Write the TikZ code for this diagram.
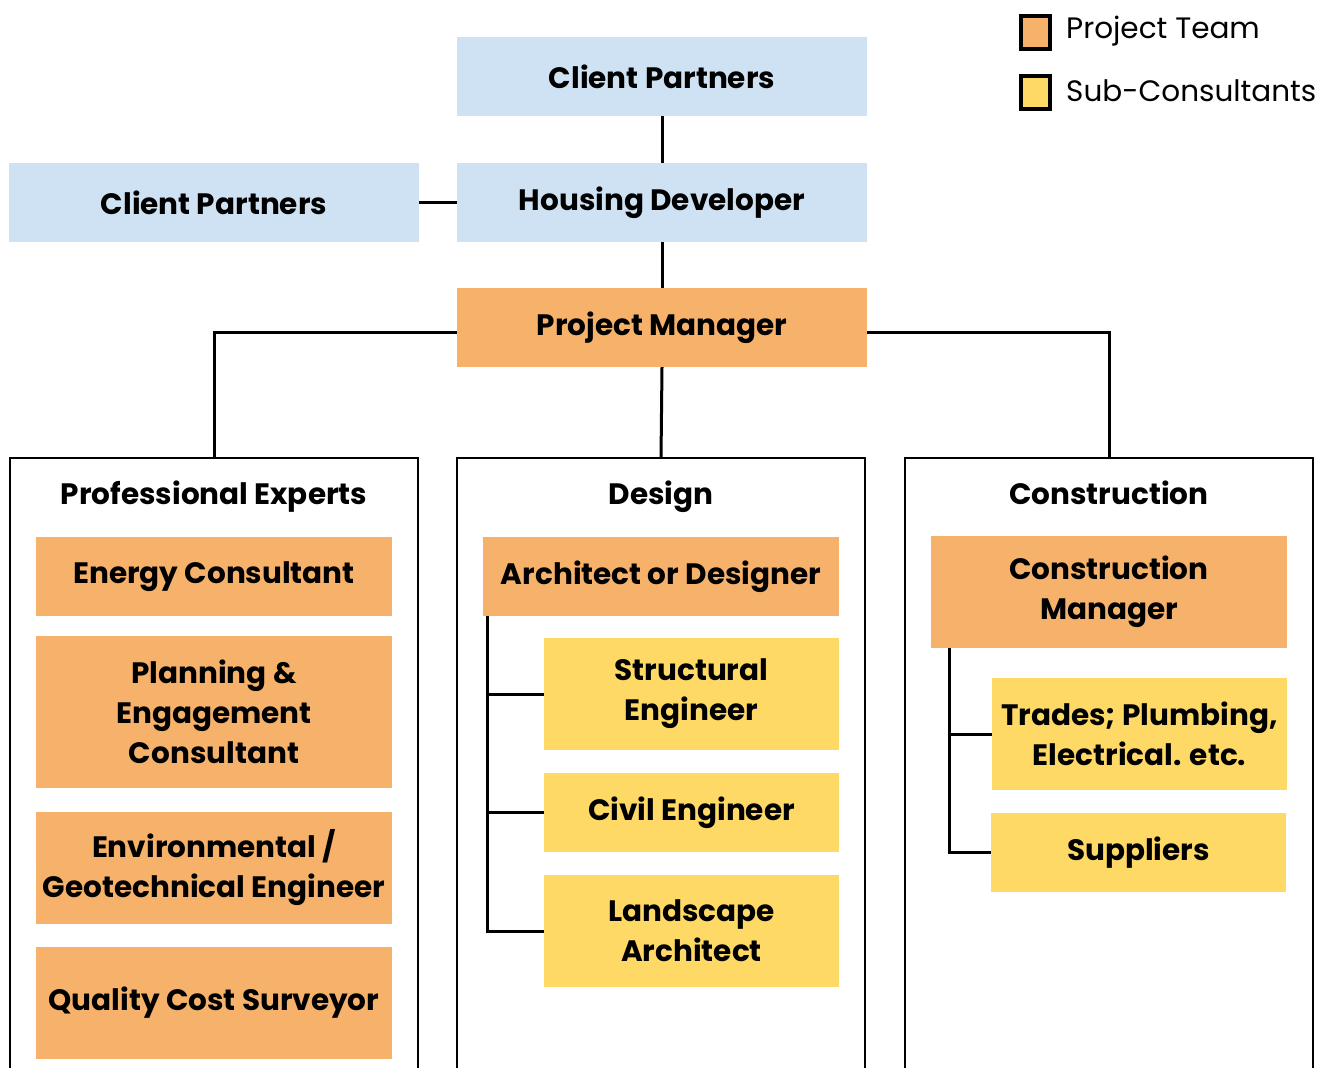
\documentclass[tikz,border=0pt]{standalone}
\usepackage{fontspec}
\setmainfont{Poppins}
\begin{document}
\begin{tikzpicture}[x=1pt,y=-1pt,
  every node/.style={inner sep=0pt, align=center},
  lbl/.style={font=\fontsize{29.5}{40}\selectfont\bfseries},
  blue box/.style={lbl, fill=clientblue, minimum width=410pt, minimum height=79pt},
  team/.style={lbl, fill=teamorange, minimum width=356pt},
  sub/.style={lbl, fill=subyellow, minimum width=295pt},
  link/.style={line width=3pt},
  panel/.style={draw, line width=2pt},
  legsq/.style={draw, line width=4pt, minimum width=29pt, minimum height=33pt}]
\definecolor{clientblue}{HTML}{CFE2F3}
\definecolor{teamorange}{HTML}{F6B26B}
\definecolor{subyellow}{HTML}{FFD966}
\useasboundingbox (0,0) rectangle (1317,1068);
\clip (0,0) rectangle (1317,1068);

% client side
\node[blue box] (cpt) at (662,76.5) {Client Partners};
\node[blue box] (cpl) at (214,202.5) {Client Partners};
\node[blue box] (hd)  at (662,202.5) {Housing Developer};
\node[team, minimum width=410pt, minimum height=79pt] (pm) at (662,327.5) {Project Manager};

% three open-bottom panels
\draw[panel] (10,1090) -- (10,458) -- (418,458) -- (418,1090);
\draw[panel] (457,1090) -- (457,458) -- (865,458) -- (865,1090);
\draw[panel] (905,1090) -- (905,458) -- (1313,458) -- (1313,1090);
\coordinate (petop) at (214,458);
\coordinate (dtop) at (661,458);
\coordinate (ctop) at (1109,458);
\node[lbl, anchor=base] (pet) at (214,504) {Professional Experts};
\node[lbl, anchor=base] (dt)  at (661,504) {Design};
\node[lbl, anchor=base] (ct)  at (1109,504) {Construction};

% professional experts
\node[team, minimum height=79pt]  (energy) at (214,576.5) {Energy Consultant};
\node[team, minimum height=152pt] (plan)   at (214,712) {Planning \&\\Engagement\\Consultant};
\node[team, minimum height=112pt] (env)    at (214,868) {Environmental /\\Geotechnical Engineer};
\node[team, minimum height=112pt] (qcs)    at (214,1003) {Quality Cost Surveyor};

% design
\node[team, minimum height=79pt] (arch)   at (661,576.5) {Architect or Designer};
\node[sub, minimum height=112pt] (struct) at (691.5,694) {Structural\\Engineer};
\node[sub, minimum height=79pt]  (civil)  at (691.5,812.5) {Civil Engineer};
\node[sub, minimum height=112pt] (land)   at (691.5,931) {Landscape\\Architect};

% construction
\node[team, minimum height=112pt] (cm)     at (1109,592) {Construction\\Manager};
\node[sub, minimum height=112pt]  (trades) at (1139.5,734) {Trades; Plumbing,\\Electrical. etc.};
\node[sub, minimum height=79pt]   (supp)   at (1138.5,852.5) {Suppliers};

% connectors
\draw[link] (cpt.south) -- (hd.north);
\draw[link] (cpl.east) -- (hd.west);
\draw[link] (hd.south) -- (pm.north);
\draw[link] ([yshift=-5pt]pm.west) -| (petop);
\draw[link] ([yshift=-5pt]pm.east) -| (ctop);
\draw[link] (pm.south) -- (dtop);

\coordinate (dtrunk) at ([xshift=5pt]arch.south west);
\draw[link] (dtrunk) |- (land.west);
\draw[link] (dtrunk |- struct.west) -- (struct.west);
\draw[link] (dtrunk |- civil.west) -- (civil.west);

\coordinate (ctrunk) at ([xshift=19pt]cm.south west);
\draw[link] (ctrunk) |- (supp.west);
\draw[link] (ctrunk |- trades.west) -- (trades.west);

% legend
\node[legsq, fill=teamorange] (lt) at (1035,32) {};
\node[legsq, fill=subyellow]  (ls) at (1035,92) {};
\node[anchor=west, font=\fontsize{29.5}{34}\selectfont] (ltt) at (1066,31) {Project Team};
\node[anchor=west, font=\fontsize{29.5}{34}\selectfont] (lst) at (1066,91) {Sub-Consultants};
\end{tikzpicture}
\end{document}
